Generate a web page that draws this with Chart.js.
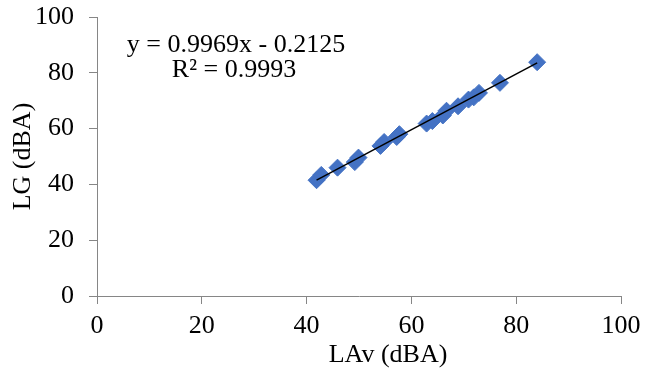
<!DOCTYPE html>
<html>
<head>
<meta charset="utf-8">
<script src="https://cdn.jsdelivr.net/npm/chart.js@4.4.0/dist/chart.umd.min.js"></script>
<style>
  html, body { margin: 0; padding: 0; background: #fff; }
  #wrap { width: 656px; height: 369px; }
</style>
</head>
<body>
<div id="wrap"><canvas id="lgChart"></canvas></div>
<script>
const lavValues = [41.9, 42.8, 45.9, 49.2, 49.9, 54.1, 54.8, 57.2, 57.7, 62.9, 64.0, 66.0, 66.7, 68.9, 70.9, 71.9, 72.9, 76.9, 84.0];
const lgValues  = [41.5, 43.4, 46.0, 48.0, 49.6, 53.8, 55.2, 57.0, 58.0, 61.8, 62.7, 64.7, 66.4, 68.0, 70.4, 71.2, 72.8, 76.4, 83.8];

// Linear trendline from the fit shown on the chart
const slope = 0.9969;
const intercept = -0.2125;
const eqLines = ['y = 0.9969x - 0.2125', 'R\u00B2 = 0.9993'];

const axisTicks = [0, 20, 40, 60, 80, 100];
const xTitle = 'LAv (dBA)';
const yTitle = 'LG (dBA)';

const points = lavValues.map((x, i) => ({ x: x, y: lgValues[i] }));
const xMin = Math.min(...lavValues);
const xMax = Math.max(...lavValues);
const trend = [xMin, xMax].map(x => ({ x: x, y: slope * x + intercept }));

const serif = '"Liberation Serif", "Times New Roman", serif';
const axisGray = '#868686';

// draws the equation box and the x axis title
const textPlugin = {
    id: 'textPlugin',
    afterDraw(chart) {
        const ctx = chart.ctx;
        ctx.save();
        ctx.fillStyle = '#000';
        ctx.font = '26px ' + serif;
        ctx.textAlign = 'center';
        ctx.textBaseline = 'alphabetic';
        ctx.fillText(eqLines[0], 236, 52);
        ctx.fillText(eqLines[1], 234, 77);
        ctx.fillText(xTitle, 388, 362);
        ctx.restore();
    }
};

new Chart(document.getElementById('lgChart'), {
    type: 'scatter',
    data: {
        datasets: [
            {
                label: 'Data',
                data: points,
                backgroundColor: '#4472C4',
                borderColor: '#4472C4',
                borderWidth: 1,
                pointStyle: 'rectRot',
                pointRadius: 8.5,
                order: 2
            },
            {
                type: 'line',
                label: 'Linear',
                data: trend,
                borderColor: '#000',
                borderWidth: 1.5,
                pointRadius: 0,
                fill: false,
                order: 1
            }
        ]
    },
    options: {
        responsive: true,
        maintainAspectRatio: false,
        animation: false,
        layout: { padding: { top: 17, right: 35, left: 0, bottom: 0 } },
        plugins: {
            legend: { display: false },
            tooltip: { enabled: false }
        },
        scales: {
            x: {
                type: 'linear',
                min: 0,
                max: 100,
                afterBuildTicks: (axis) => { axis.ticks = axisTicks.map(v => ({ value: v })); },
                afterFit: (axis) => {
                    axis.height = 73;
                    axis.paddingLeft = 0;
                    axis.paddingRight = 0;
                },
                ticks: {
                    color: '#000',
                    font: { family: serif, size: 26 },
                    padding: 7,
                    maxRotation: 0
                },
                grid: {
                    drawOnChartArea: false,
                    drawTicks: true,
                    tickLength: 8,
                    color: axisGray
                },
                border: { color: axisGray, width: 1 }
            },
            y: {
                type: 'linear',
                min: 0,
                max: 100,
                afterBuildTicks: (axis) => { axis.ticks = axisTicks.map(v => ({ value: v })); },
                afterFit: (axis) => {
                    axis.width = 97;
                    axis.paddingTop = 0;
                    axis.paddingBottom = 0;
                },
                ticks: {
                    color: '#000',
                    font: { family: serif, size: 26 },
                    padding: 15
                },
                grid: {
                    drawOnChartArea: false,
                    drawTicks: true,
                    tickLength: 8,
                    color: axisGray
                },
                border: { color: axisGray, width: 1 },
                title: {
                    display: true,
                    text: yTitle,
                    color: '#000',
                    font: { family: serif, size: 26, lineHeight: 1.2 },
                    padding: { top: 8, bottom: 0 }
                }
            }
        }
    },
    plugins: [textPlugin]
});
</script>
</body>
</html>
